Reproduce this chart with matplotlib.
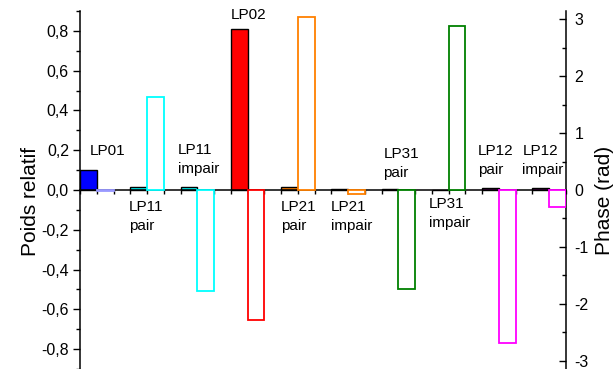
import numpy as np
import matplotlib
matplotlib.use('Agg')
import matplotlib.pyplot as plt
from matplotlib.ticker import MultipleLocator, FuncFormatter

plt.rcParams['font.family'] = ['Liberation Sans', 'DejaVu Sans']

# mode names, relative weights (left axis) and phases in rad (right axis)
modes = ['LP01', 'LP11\npair', 'LP11\nimpair', 'LP02', 'LP21\npair',
         'LP21\nimpair', 'LP31\npair', 'LP31\nimpair', 'LP12\npair', 'LP12\nimpair']
weights = [0.10, 0.016, 0.013, 0.81, 0.015, 0.004, 0.004, 0.002, 0.011, 0.008]
phases = [-0.02, 1.64, -1.77, -2.28, 3.03, -0.07, -1.74, 2.87, -2.69, -0.29]
colors = ['#0000FF', '#00FFFF', '#00FFFF', '#FF0000', '#FF8000',
          '#FF8000', '#008000', '#008000', '#FF00FF', '#FF00FF']
phase_colors = ['#9999FF', '#00FFFF', '#00FFFF', '#FF0000', '#FF8000',
                '#FF8000', '#008000', '#008000', '#FF00FF', '#FF00FF']

# label placement (x in bar slots, y in left-axis units)
lab_x = [0.1, 2.42, 5.35, 8.5, 11.5, 14.48, 17.6, 20.3, 23.25, 25.9]
lab_y = [0.196, -0.131, 0.151, 0.881, -0.131, -0.131, 0.131, -0.116, 0.146, 0.146]

x = np.arange(len(modes)) * 3

fig = plt.figure(figsize=(6.13, 3.69), dpi=100)
ax = fig.add_axes([80/613, 0.0, (566-80)/613, 1 - 11/369])
ax2 = ax.twinx()

ax.bar(x, weights, width=1.0, color=colors, edgecolor='black', linewidth=1.0, zorder=3)
ax2.bar(x + 1, phases, width=1.0, color='white', edgecolor=phase_colors, linewidth=1.3, zorder=3)

ax.set_xlim(-0.5, x[-1] + 1.5)
ax.set_ylim(-0.9, 0.9)
ax2.set_ylim(-np.pi, np.pi)

ax.spines['top'].set_visible(False)
ax.spines['right'].set_visible(False)
ax.spines['bottom'].set_position(('data', 0))
for s in ['top', 'bottom', 'left']:
    ax2.spines[s].set_visible(False)
for s in ['left', 'bottom']:
    ax.spines[s].set_linewidth(1.1)
ax2.spines['right'].set_linewidth(1.1)
ax.spines['bottom'].set_zorder(4)

ax.set_xticks(np.arange(-0.5, x[-1] + 2, 1.0))
ax.set_xticklabels([])
ax.tick_params(axis='x', direction='out', length=3, width=1)

ax.yaxis.set_major_locator(MultipleLocator(0.2))
ax.yaxis.set_minor_locator(MultipleLocator(0.1))
ax.yaxis.set_major_formatter(FuncFormatter(lambda v, p: ('%.1f' % v).replace('.', ',').replace('-0,0', '0,0')))
ax.tick_params(axis='y', which='major', direction='out', length=5, width=1, labelsize=11.5, pad=3)
ax.tick_params(axis='y', which='minor', direction='out', length=3, width=1)

ax2.yaxis.set_major_locator(MultipleLocator(1))
ax2.yaxis.set_minor_locator(MultipleLocator(0.5))
ax2.yaxis.set_major_formatter(FuncFormatter(lambda v, p: '%d' % round(v)))
ax2.tick_params(axis='y', which='major', direction='in', length=5, width=1, labelsize=11.5, pad=6)
ax2.tick_params(axis='y', which='minor', direction='in', length=3, width=1)

for name, tx, ty in zip(modes, lab_x, lab_y):
    ax.text(tx, ty, name, ha='left', va='center', fontsize=11, linespacing=1.45, zorder=5)

fig.text(30/613, 1 - 202/369, 'Poids relatif', rotation=90, ha='center', va='center', fontsize=15)
fig.text(604/613, 1 - 200/369, 'Phase (rad)', rotation=90, ha='center', va='center', fontsize=15)

fig.savefig('out.png', dpi=100)
